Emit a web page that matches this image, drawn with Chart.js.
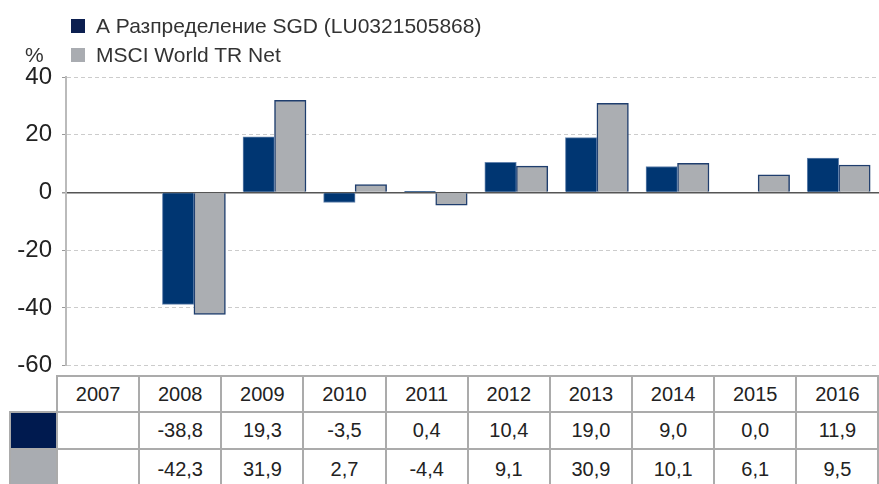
<!DOCTYPE html>
<html>
<head>
<meta charset="utf-8">
<script src="https://cdn.jsdelivr.net/npm/chart.js@4.4.0/dist/chart.umd.min.js"></script>
<style>
  body { margin: 0; background: #fff; font-family: "Liberation Sans", Arial, sans-serif; color: #222; }
  #wrap { position: relative; width: 879px; height: 484px; overflow: hidden; }
  #chart { position: absolute; left: 0; top: 0; }
  .sq { position: absolute; left: 71px; width: 14px; height: 14px; }
  .txt { position: absolute; font-size: 21px; line-height: 21px; color: #333; white-space: nowrap; }
  .cell { position: absolute; box-sizing: border-box; border: 2px solid #ababab; display: flex;
          align-items: center; justify-content: center; font-size: 20px; color: #222; background: #fff; }
</style>
</head>
<body>
<div id="wrap">
  <canvas id="chart" width="879" height="390"></canvas>
  <div id="legend"></div>
  <div id="table"></div>
</div>
<script>
// years along the x-axis
var years = [2007, 2008, 2009, 2010, 2011, 2012, 2013, 2014, 2015, 2016];
// series values in %
var fund = [null, -38.8, 19.3, -3.5, 0.4, 10.4, 19.0, 9.0, 0.0, 11.9];
var index = [null, -42.3, 31.9, 2.7, -4.4, 9.1, 30.9, 10.1, 6.1, 9.5];
var seriesNames = ["А Разпределение SGD (LU0321505868)", "MSCI World TR Net"];
var yTicks = [40, 20, 0, -20, -40, -60];

var fundColor = "#003672";
var indexColor = "#abaeb2";
var swatchColors = ["#001a4f", "#a9acb1"];

function points(values) {
  return years.map(function (y, i) { return { x: y, y: values[i] }; });
}

// legend
var legend = document.getElementById("legend");
var legTops = [15, 44];
seriesNames.forEach(function (name, i) {
  var sq = document.createElement("div");
  sq.className = "sq";
  sq.style.top = (legTops[i] + 4) + "px";
  sq.style.background = i == 0 ? "#0c1f50" : swatchColors[1];
  legend.appendChild(sq);
  var t = document.createElement("div");
  t.className = "txt";
  t.style.left = "96px";
  t.style.top = legTops[i] + "px";
  t.textContent = name;
  legend.appendChild(t);
});
var pct = document.createElement("div");
pct.className = "txt";
pct.style.left = "25px";
pct.style.top = "44px";
pct.textContent = "%";
legend.appendChild(pct);

// table under the chart
function fmt(v) {
  return v == null ? "" : v.toFixed(1).replace(".", ",");
}
var table = document.getElementById("table");
var colX = [10, 57];
for (var k = 1; k <= years.length; k++) colX.push(57 + 82.15 * k);
var rowY = [376, 412.3, 449, 490];
function addCell(r, c, text, bg) {
  var d = document.createElement("div");
  d.className = "cell";
  d.style.left = (colX[c] - 1) + "px";
  d.style.top = (rowY[r] - 1) + "px";
  d.style.width = (colX[c + 1] - colX[c] + 2) + "px";
  d.style.height = (rowY[r + 1] - rowY[r] + 2) + "px";
  if (bg) d.style.background = bg;
  d.textContent = text;
  table.appendChild(d);
}
years.forEach(function (y, i) { addCell(0, i + 1, String(y)); });
[fund, index].forEach(function (vals, r) {
  addCell(r + 1, 0, "", swatchColors[r]);
  vals.forEach(function (v, i) { addCell(r + 1, i + 1, fmt(v)); });
});

var ctx = document.getElementById("chart");
var myChart = new Chart(ctx, {
  type: "bar",
  data: {
    datasets: [
      {
        label: seriesNames[0],
        data: points(fund),
        backgroundColor: fundColor,
        borderColor: "#6383ad",
        borderWidth: 1
      },
      {
        label: seriesNames[1],
        data: points(index),
        backgroundColor: indexColor,
        borderColor: "#1f3e6e",
        borderWidth: 1.5
      }
    ]
  },
  options: {
    responsive: false,
    animation: false,
    barThickness: 31.5,
    layout: { padding: { top: 77, bottom: 12, left: 0, right: 0 } },
    plugins: { legend: { display: false }, tooltip: { enabled: false } },
    scales: {
      x: {
        type: "linear",
        display: false,
        offset: false,
        min: 2006.413,
        max: 2016.5
      },
      y: {
        min: -60,
        max: 40,
        afterFit: function (s) { s.width = 66; },
        afterBuildTicks: function (s) {
          s.ticks = yTicks.map(function (v) { return { value: v }; });
        },
        ticks: {
          padding: 10,
          color: "#222",
          font: { family: "'Liberation Sans', Arial, sans-serif", size: 24 }
        },
        grid: {
          tickLength: 4,
          tickColor: "#999",
          color: function (c) { return c.tick && c.tick.value === 0 ? "#555" : "#cccccc"; },
          lineWidth: function (c) { return c.tick && c.tick.value === 0 ? 1.5 : 1; }
        },
        border: {
          color: "#bbbbbb",
          width: 2,
          dash: function (c) {
            if (c.type === "tick") return c.tick.value === 0 ? [] : [4, 3];
            return [];
          }
        }
      }
    }
  }
});
</script>
</body>
</html>
